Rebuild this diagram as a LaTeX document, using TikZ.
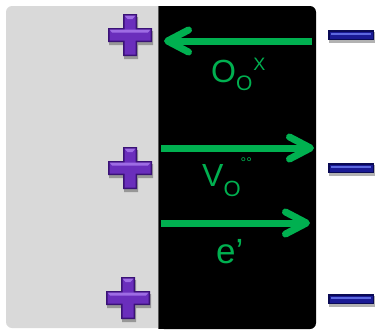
\documentclass[tikz,border=0pt]{standalone}
\usepackage{fontspec}
\setmainfont{Liberation Sans}
\usetikzlibrary{arrows.meta, positioning}
\definecolor{migreen}{RGB}{0,176,80}
\definecolor{panelgrey}{RGB}{217,217,217}
\definecolor{cationdark}{RGB}{58,18,118}
\definecolor{cation}{RGB}{106,46,188}
\definecolor{cationlight}{RGB}{158,108,228}
\definecolor{aniondark}{RGB}{10,10,86}
\definecolor{anion}{RGB}{26,26,148}
\definecolor{anionlight}{RGB}{92,104,222}
\tikzstyle{species} = [text=migreen, inner sep=0pt, anchor=base west]
\tikzstyle{flow} = [line width=7pt, draw=migreen, -{Straight Barb[length=21pt, width=22pt, line cap=round, line join=round]}]
\tikzset{
  plusmark/.pic={
    \fill[black, opacity=0.3, shift={(1,3)}] (-22,-7) -- (-7,-7) -- (-7,-21) -- (7,-21) -- (7,-7) -- (22,-7) -- (22,7) -- (7,7) -- (7,21) -- (-7,21) -- (-7,7) -- (-22,7) -- cycle;
    \fill[cationdark] (-22,-7) -- (-7,-7) -- (-7,-21) -- (7,-21) -- (7,-7) -- (22,-7) -- (22,7) -- (7,7) -- (7,21) -- (-7,21) -- (-7,7) -- (-22,7) -- cycle;
    \fill[cation] (-20.5,-5.5) -- (-5.5,-5.5) -- (-5.5,-19.5) -- (5.5,-19.5) -- (5.5,-5.5) -- (20.5,-5.5) -- (20.5,5.5) -- (5.5,5.5) -- (5.5,19.5) -- (-5.5,19.5) -- (-5.5,5.5) -- (-20.5,5.5) -- cycle;
    \fill[cationlight] (-20.5,-5.5) -- (20.5,-5.5) -- (18,-2.5) -- (-18,-2.5) -- cycle;
    \fill[cationlight] (-5.5,-19.5) -- (5.5,-19.5) -- (2.5,-16) -- (-2.5,-16) -- cycle;
  },
  minusmark/.pic={
    \fill[black, opacity=0.3] (-22,-3) rectangle (24,8);
    \fill[aniondark] (-23,-5) rectangle (23,5);
    \fill[anion] (-21.5,-3.5) rectangle (21.5,3.5);
    \fill[anionlight] (-20,-2.5) rectangle (20,-0.5);
  }
}
\begin{document}
\begin{tikzpicture}[x=1pt, y=-1pt]
  \useasboundingbox (0,0) rectangle (376,330);
  % panels
  \fill[panelgrey, rounded corners=6] (6,6) rectangle (170,328);
  \fill[black, rounded corners=6] (158,6) rectangle (316,329);
  \fill[black] (158,6) rectangle (166,329);
  \draw[gray!70!black, line width=0.8pt] (158,6) -- (158,329);
  % ions
  \pic (cat1) at (130,35) {plusmark};
  \pic (cat2) at (130,168) {plusmark};
  \pic (cat3) at (128,298) {plusmark};
  \pic (an1) at (351,35) {minusmark};
  \pic (an2) at (351,168) {minusmark};
  \pic (an3) at (351,299) {minusmark};
  % fluxes
  \coordinate (oxstart) at (312,41);
  \coordinate (oxend) at (164,41);
  \coordinate (vacstart) at (161,148);
  \coordinate (vacend) at (314,148);
  \coordinate (elstart) at (161,223);
  \coordinate (elend) at (310,223);
  \draw[flow] (oxstart) -- (oxend);
  \draw[flow] (vacstart) -- (vacend);
  \draw[flow] (elstart) -- (elend);
  \node (oxlabel) [species] at (211,82) {\fontsize{32}{32}\selectfont O\raisebox{-8pt}{\fontsize{21}{21}\selectfont O}\kern1pt\raisebox{12pt}{\fontsize{18}{18}\selectfont X}};
  \node (vaclabel) [species] at (202,186) {\fontsize{32}{32}\selectfont V\raisebox{-10.5pt}{\fontsize{22}{22}\selectfont O}\raisebox{19pt}{\fontsize{14}{14}\selectfont °°}};
  \node (ellabel) [species] at (216,263) {\fontsize{35}{35}\selectfont e’};
\end{tikzpicture}
\end{document}
